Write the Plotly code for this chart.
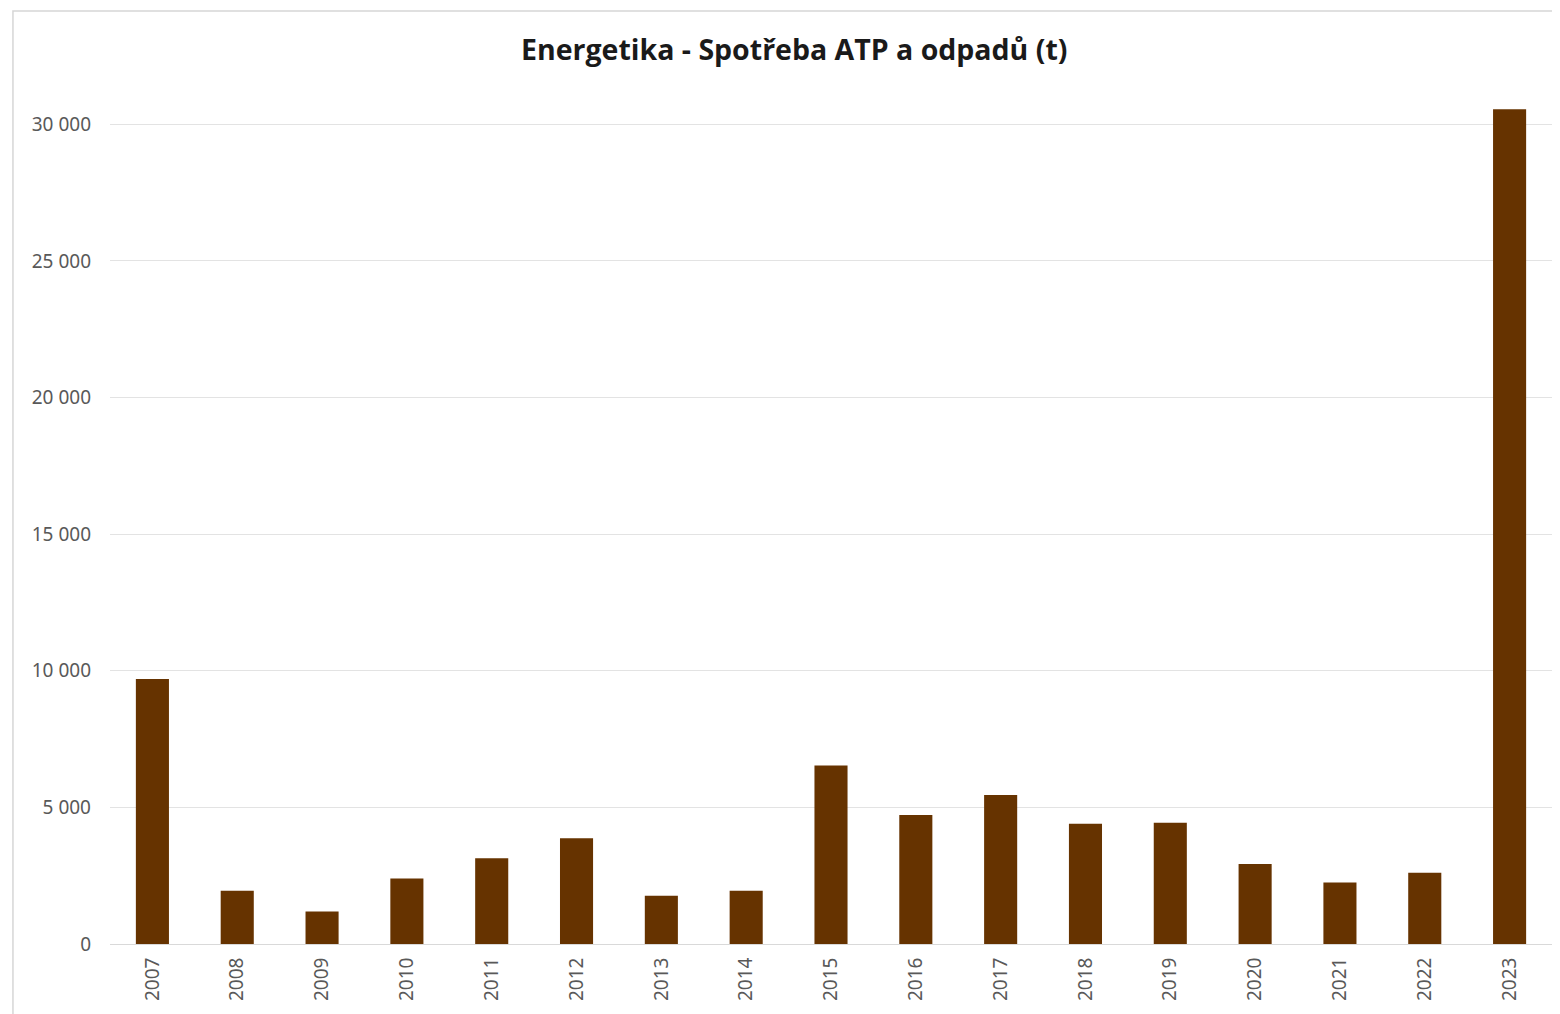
import plotly.graph_objects as go

years = ["2007", "2008", "2009", "2010", "2011", "2012", "2013", "2014", "2015",
         "2016", "2017", "2018", "2019", "2020", "2021", "2022", "2023"]
values = [9700, 1950, 1190, 2400, 3140, 3870, 1770, 1950, 6530,
          4720, 5450, 4400, 4440, 2930, 2250, 2610, 30550]
y_ticks = [0, 5000, 10000, 15000, 20000, 25000, 30000]
title_text = "Energetika - Spotřeba ATP a odpadů (t)"

fig = go.Figure(go.Bar(x=years, y=values, marker_color="#663300",
                       marker_line_width=0, width=0.39))

fig.update_layout(
    width=1560, height=1014,
    paper_bgcolor="white", plot_bgcolor="white",
    separators=", ",
    margin=dict(l=102, r=16, t=89, b=78),
    title=dict(text="<b>" + title_text + "</b>", x=0.504, xanchor="center",
               y=1 - 42 / 1014, yanchor="middle",
               font=dict(family="Open Sans", size=28.5, color="#1a1a1a")),
    showlegend=False,
    font=dict(family="Noto Sans", color="#595959"),
)
fig.update_xaxes(type="category", tickangle=-90, showgrid=False,
                 showline=True, linecolor="#d9d9d9", linewidth=1,
                 tickfont=dict(size=19, color="#595959"), ticks="",
                 ticklabelstandoff=5)
fig.update_yaxes(range=[0, 31000], tickvals=y_ticks, tickformat=",d",
                 showgrid=True, gridcolor="#e3e3e3", gridwidth=1,
                 zeroline=False, showline=False,
                 tickfont=dict(size=19, color="#595959"), ticks="",
                 ticklabelstandoff=18)

fig.add_shape(type="rect", xref="paper", yref="paper",
              x0=-0.0673, x1=1.03, y0=-0.12, y1=1.1015,
              line=dict(color="#d6d6d6", width=1.5), layer="below")

fig.write_html("out.html")
